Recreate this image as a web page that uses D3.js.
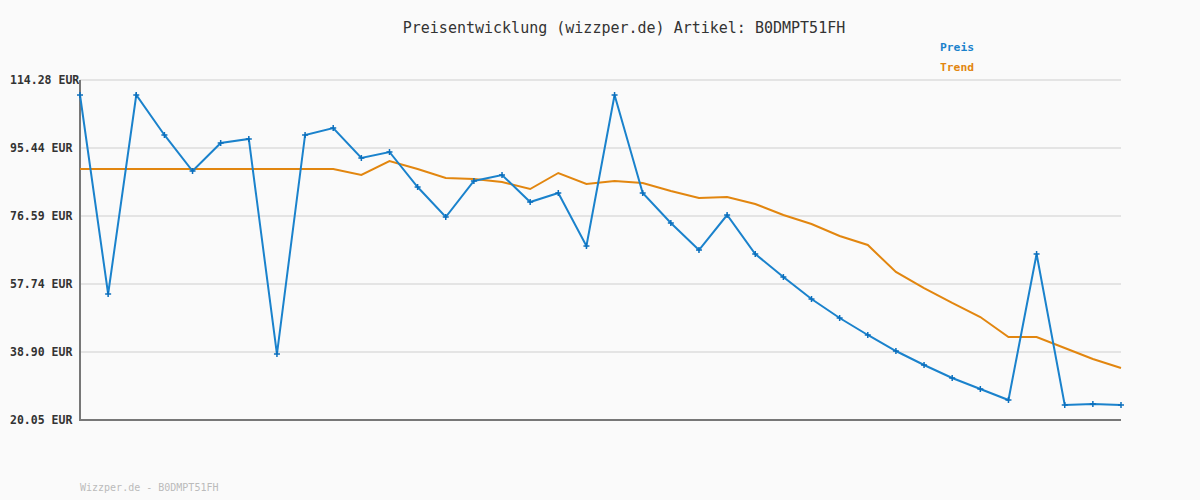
<!DOCTYPE html>
<html><head><meta charset="utf-8">
<script src="https://cdn.jsdelivr.net/npm/d3@7"></script>
<style>
html,body{margin:0;padding:0;background:#fafafa;}
svg{display:block;}
text{font-family:"DejaVu Sans Mono","Liberation Mono",monospace;}
</style></head>
<body>
<script>
const title = "Preisentwicklung (wizzper.de) Artikel: B0DMPT51FH";
const footer = "Wizzper.de - B0DMPT51FH";
const seriesNames = ["Preis", "Trend"];
const yTicks = [20.05, 38.90, 57.74, 76.59, 95.44, 114.28];
const preis = [110.12, 54.97, 110.12, 99.04, 89.06, 96.82, 97.93, 38.34, 99.04, 100.98,
  92.66, 94.33, 84.62, 76.31, 86.29, 87.95, 80.47, 82.96, 68.27, 110.12,
  82.96, 74.65, 67.16, 76.86, 66.06, 59.68, 53.58, 48.32, 43.61, 39.17,
  35.29, 31.69, 28.64, 25.59, 66.06, 24.21, 24.48, 24.21];
const trend = [89.61, 89.61, 89.61, 89.61, 89.61, 89.61, 89.61, 89.61, 89.61, 89.61,
  87.95, 91.83, 89.61, 87.12, 86.84, 86.01, 84.07, 88.51, 85.46, 86.29,
  85.73, 83.52, 81.58, 81.85, 79.92, 76.86, 74.37, 71.04, 68.55, 61.07,
  56.63, 52.48, 48.59, 43.05, 43.05, 40.00, 36.95, 34.46];

const W = 1200, H = 500;
const m = {left: 80, right: 79, top: 80, bottom: 80};
const svg = d3.select("body").append("svg").attr("width", W).attr("height", H);
svg.append("rect").attr("width", W).attr("height", H).attr("fill", "#fafafa");

const idx = d3.range(preis.length);
const x = d3.scaleLinear().domain([0, preis.length - 1]).range([m.left, W - m.right]);
const y = d3.scaleLinear().domain([yTicks[0], yTicks[yTicks.length - 1]]).range([H - m.bottom, m.top]);

// grid
svg.append("g").selectAll("line").data(yTicks).join("line")
  .attr("x1", m.left).attr("x2", W - m.right)
  .attr("y1", d => y(d)).attr("y2", d => y(d))
  .attr("stroke", "#e4e4e4").attr("stroke-width", 2);

// y labels
svg.append("g").selectAll("text").data(yTicks).join("text")
  .attr("x", 10).attr("y", d => y(d) + 4)
  .attr("font-size", "11.5px").attr("font-weight", "bold").attr("fill", "#333")
  .text(d => d.toFixed(2) + " EUR");

// axes
svg.append("line").attr("x1", m.left).attr("x2", m.left).attr("y1", m.top).attr("y2", H - m.bottom + 1)
  .attr("stroke", "#777").attr("stroke-width", 2);
svg.append("line").attr("x1", m.left - 1).attr("x2", W - m.right).attr("y1", H - m.bottom).attr("y2", H - m.bottom)
  .attr("stroke", "#777").attr("stroke-width", 2);

const line = d3.line().x((d, i) => x(i)).y(d => y(d));
const blue = "#1a82cc", orange = "#e2860f";

svg.append("path").datum(trend).attr("d", line).attr("fill", "none")
  .attr("stroke", orange).attr("stroke-width", 2);
svg.append("path").datum(preis).attr("d", line).attr("fill", "none")
  .attr("stroke", blue).attr("stroke-width", 2);

// markers
const mk = svg.append("g").selectAll("g").data(preis).join("g")
  .attr("transform", (d, i) => `translate(${x(i)},${y(d)})`);
mk.append("line").attr("x1", -3).attr("x2", 3).attr("stroke", "#0b6fbd").attr("stroke-width", 1.5);
mk.append("line").attr("y1", -3).attr("y2", 3).attr("stroke", "#0b6fbd").attr("stroke-width", 1.5);

// title
svg.append("text").attr("x", 624).attr("y", 33).attr("text-anchor", "middle")
  .attr("font-size", "15px").attr("fill", "#333").text(title);

// legend
const legColors = [blue, orange];
svg.append("g").selectAll("text").data(seriesNames).join("text")
  .attr("x", 940).attr("y", (d, i) => 51 + i * 20)
  .attr("font-size", "11.3px").attr("font-weight", "bold")
  .attr("fill", (d, i) => legColors[i]).text(d => d);

// footer
svg.append("text").attr("x", 80).attr("y", 491).attr("font-size", "10px")
  .attr("fill", "#bbb").text(footer);
</script>
</body></html>
